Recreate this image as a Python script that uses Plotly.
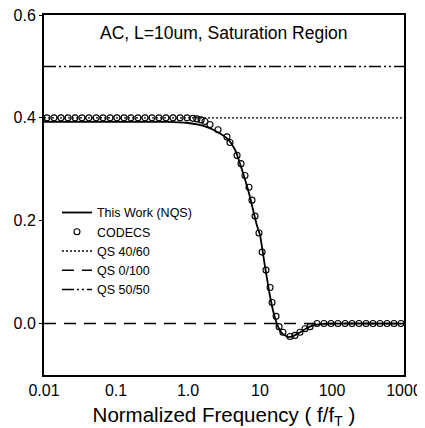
import plotly.graph_objects as go

# ---- data ----
nqs_f = [0.01, 0.1, 0.5, 1.0, 1.5, 2.0, 2.6, 3.5, 4.5, 5.3, 6.2, 7.2, 8.2, 9.1, 10, 11.7,
         13.7, 15.5, 17.8, 20, 24.5, 28, 36, 49, 68, 100, 1000]
nqs_v = [0.392, 0.392, 0.392, 0.390, 0.386, 0.380, 0.372, 0.360, 0.338, 0.310, 0.280, 0.248,
         0.215, 0.190, 0.172, 0.112, 0.055, 0.020, -0.006, -0.018, -0.026, -0.025, -0.017,
         -0.006, -0.001, 0.0, 0.0]

codecs_f = [0.011, 0.0138, 0.0172, 0.0215, 0.027, 0.0337, 0.042, 0.053, 0.066, 0.083, 0.103,
            0.129, 0.161, 0.202, 0.253, 0.316, 0.395, 0.494, 0.619, 0.774, 0.968, 1.17, 1.33,
            1.52, 1.72, 2.02, 2.61, 3.48, 3.83, 4.80, 5.45, 6.19, 7.03, 7.74, 8.53, 9.68, 10.7,
            12.1, 13.8, 14.7, 16.7, 18.4, 20.8, 26.1, 30.6, 35.9, 42.2, 49.5, 61.9, 77.4, 96.8,
            121, 152, 190, 237, 297, 371, 464, 581, 726, 908]
codecs_v = [0.400, 0.400, 0.400, 0.400, 0.400, 0.400, 0.400, 0.400, 0.400, 0.400, 0.400,
            0.400, 0.400, 0.400, 0.400, 0.400, 0.400, 0.400, 0.400, 0.400, 0.400, 0.399, 0.398,
            0.396, 0.393, 0.387, 0.377, 0.363, 0.352, 0.327, 0.311, 0.288, 0.265, 0.240, 0.209,
            0.176, 0.139, 0.104, 0.070, 0.041, 0.014, -0.006, -0.017, -0.025, -0.023, -0.017,
            -0.010, -0.006, 0.0, 0.0, 0.0, 0.0, 0.0, 0.0, 0.0, 0.0, 0.0, 0.0, 0.0, 0.0, 0.0]

qs_f = [0.01, 1000]
qs4060_v = [0.4, 0.4]
qs0100_v = [0.0, 0.0]
qs5050_v = [0.5, 0.5]

xtick_vals = [0.01, 0.1, 1, 10, 100, 1000]
xtick_text = ["0.01", "0.1", "1.0", "10", "100", "1000"]
ytick_vals = [0.0, 0.2, 0.4, 0.6]
ytick_text = ["0.0", "0.2", "0.4", "0.6"]

FONT = "Liberation Sans, Arial, Helvetica, sans-serif"

fig = go.Figure()
fig.add_trace(go.Scatter(x=nqs_f, y=nqs_v, mode="lines", name="This Work (NQS)",
                         line=dict(color="black", width=1.8, shape="spline", smoothing=0.6)))
fig.add_trace(go.Scatter(x=codecs_f, y=codecs_v, mode="markers", name="CODECS",
                         marker=dict(symbol="circle-open", size=6, color="black",
                                     line=dict(width=1.1, color="black"))))
fig.add_trace(go.Scatter(x=qs_f, y=qs4060_v, mode="lines", name="QS 40/60",
                         line=dict(color="black", width=1.3, dash="2px,2px")))
fig.add_trace(go.Scatter(x=qs_f, y=qs0100_v, mode="lines", name="QS 0/100",
                         line=dict(color="black", width=1.6, dash="12px,8px")))
fig.add_trace(go.Scatter(x=qs_f, y=qs5050_v, mode="lines", name="QS 50/50",
                         line=dict(color="black", width=1.4, dash="12px,3px,2px,3px,2px,3px")))

fig.add_annotation(text="AC, L=10um, Saturation Region", xref="paper", yref="paper",
                   x=0.5, y=0.95, xanchor="center", yanchor="middle", showarrow=False,
                   font=dict(family=FONT, size=17.5, color="black"))

# the page adds an 8px body margin, so the margins are shifted to compensate
fig.update_layout(
    width=425, height=428,
    margin=dict(l=36, r=29, t=7, b=61, autoexpand=False),
    paper_bgcolor="white", plot_bgcolor="white",
    font=dict(family=FONT, color="black"),
    showlegend=True,
    legend=dict(x=0.036, y=0.492, xanchor="left", yanchor="top",
                bgcolor="rgba(0,0,0,0)", font=dict(family=FONT, size=12.5, color="black"),
                tracegroupgap=0, itemwidth=30),
    xaxis=dict(type="log", range=[-2, 3], tickvals=xtick_vals, ticktext=xtick_text,
               automargin=False, ticklabeloverflow="allow",
               showgrid=False, zeroline=False, showline=True, linecolor="black",
               linewidth=2, mirror=True, ticks="",
               tickfont=dict(family=FONT, size=16, color="black"),
               title=dict(text="Normalized Frequency ( f/f<sub>T</sub> )",
                          font=dict(family=FONT, size=20.5, color="black"), standoff=9)),
    yaxis=dict(range=[-0.1, 0.6], tickvals=ytick_vals, ticktext=ytick_text,
               automargin=False, ticklabeloverflow="allow",
               showgrid=False, zeroline=False, showline=True, linecolor="black",
               linewidth=2, mirror=True, ticks="outside", ticklen=3, tickcolor="black",
               tickfont=dict(family=FONT, size=16, color="black")),
)

fig.write_html("out.html")
